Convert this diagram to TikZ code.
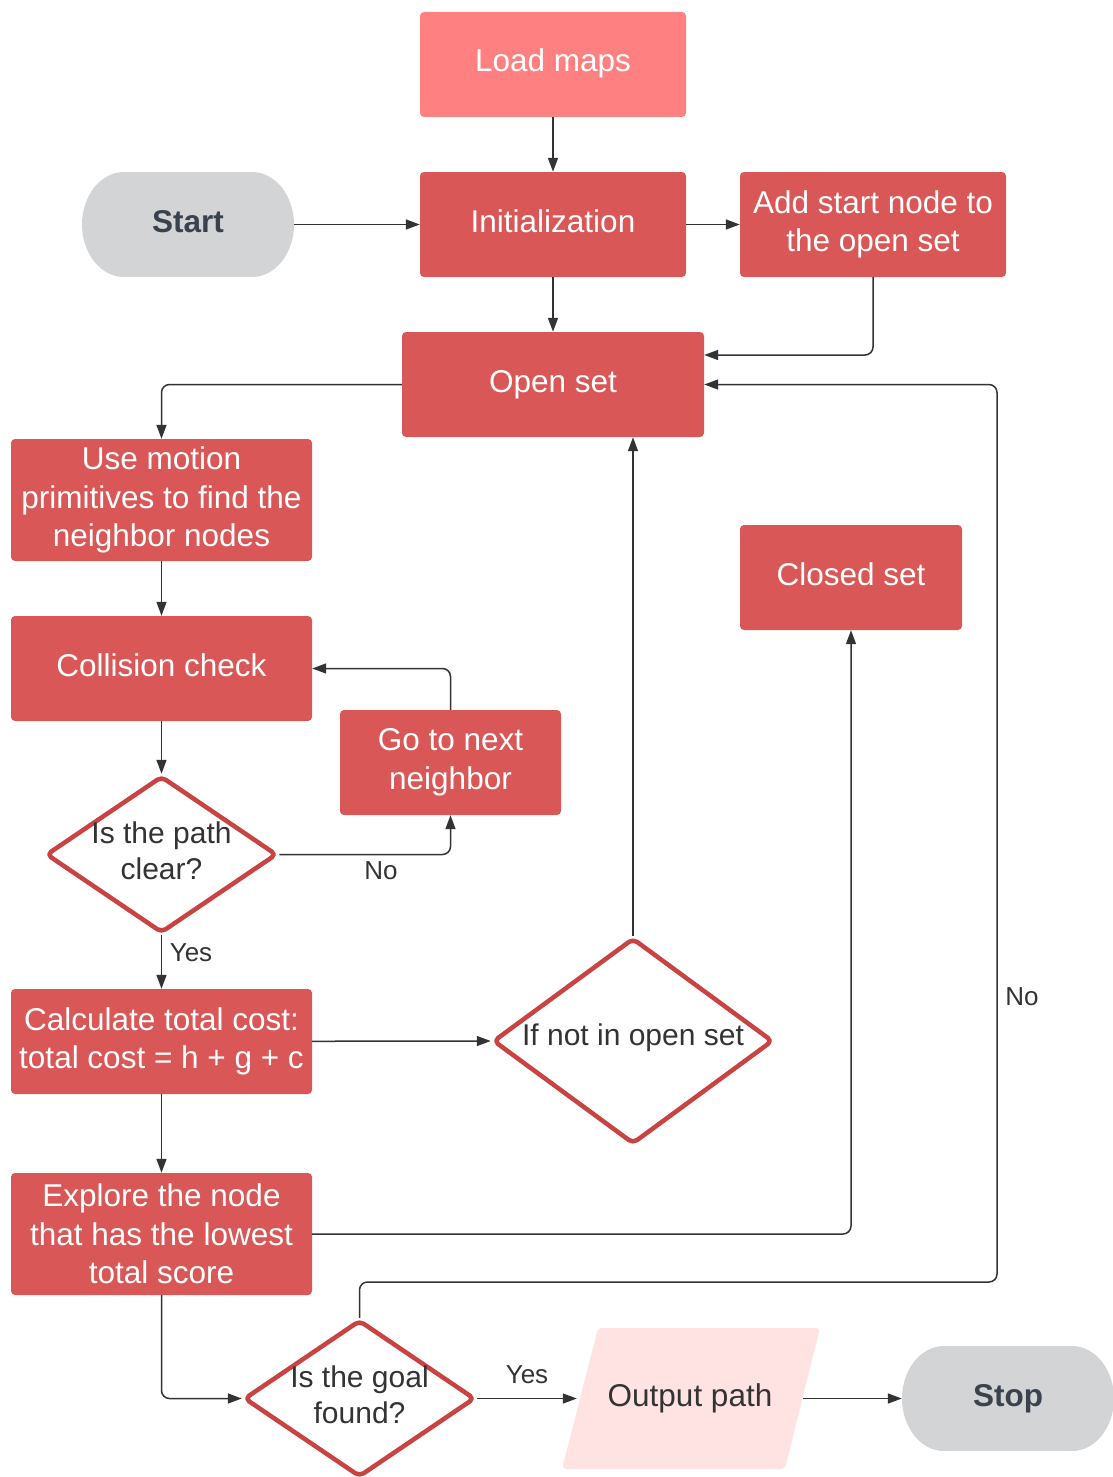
\documentclass[tikz,border=0pt]{standalone}
\usepackage{fontspec}
\setmainfont{Liberation Sans}
\usetikzlibrary{shapes.geometric,arrows.meta}
\definecolor{boxred}{HTML}{D95757}
\definecolor{lightred}{HTML}{FF8080}
\definecolor{diaedge}{HTML}{C94343}
\definecolor{termgrey}{HTML}{D3D4D6}
\definecolor{termtext}{HTML}{3A434D}
\definecolor{linegrey}{HTML}{333333}
\definecolor{outfill}{HTML}{FFE3E3}

\begin{document}
\begin{tikzpicture}[x=1pt,y=-1pt,
  proc/.style={rectangle, rounded corners=4pt, fill=boxred, text=white,
    font=\fontsize{31.5}{38.5}\selectfont, align=center, inner sep=0pt,
    minimum height=105},
  oneline/.style={text height=22.5pt, text depth=7.5pt},
  decision/.style={diamond, draw=diaedge, line width=4.5pt, fill=white,
    rounded corners=5pt, line join=round, inner sep=0pt},
  dtext/.style={text=linegrey, font=\fontsize{30}{36}\selectfont,
    align=center, inner sep=0pt},
  term/.style={text=termtext, font=\fontsize{31.5}{37}\bfseries\selectfont,
    inner sep=0pt, minimum height=105, oneline},
  lbl/.style={text=linegrey, font=\fontsize{26}{30}\selectfont, inner sep=0pt},
  conn/.style={draw=linegrey, line width=1.5pt, rounded corners=8pt,
    -{Triangle[length=14pt,width=10pt]}}
]
\useasboundingbox (0,0) rectangle (1113,1477);

% terminals
\fill[termgrey] (124,172) rectangle (252,277);
\fill[termgrey] (124,224.5) ellipse [x radius=42, y radius=52.5];
\fill[termgrey] (252,224.5) ellipse [x radius=42, y radius=52.5];
\node[term, minimum width=212] (start) at (188,224.5) {Start};

\fill[termgrey] (944,1346) rectangle (1072,1451);
\fill[termgrey] (944,1398.5) ellipse [x radius=42, y radius=52.5];
\fill[termgrey] (1072,1398.5) ellipse [x radius=42, y radius=52.5];
\node[term, minimum width=212] (stop) at (1008,1398.5) {Stop};

% process boxes
\node[proc, oneline, fill=lightred, minimum width=266] (load) at (553,64.5) {Load maps};
\node[proc, oneline, minimum width=266] (init) at (553,224.5) {Initialization};
\node[proc, minimum width=266] (addstart) at (873,224.5) {Add start node to\\the open set};
\node[proc, oneline, minimum width=302] (open) at (553,384.5) {Open set};
\node[proc, minimum width=301, minimum height=122] (motion) at (161.5,500) {Use motion\\primitives to find the\\neighbor nodes};
\node[proc, oneline, minimum width=301] (collide) at (161.5,668.5) {Collision check};
\node[proc, minimum width=221] (next) at (450.5,762.5) {Go to next\\neighbor};
\node[proc, oneline, minimum width=222] (closed) at (851,577.5) {Closed set};
\node[proc, minimum width=301] (cost) at (161.5,1041.5) {Calculate total cost:\\total cost = h + g + c};
\node[proc, minimum width=301, minimum height=122] (explore) at (161.5,1234) {Explore the node\\that has the lowest\\total score};

% decisions
\node[decision, minimum width=231, minimum height=157] (clear) at (161.5,854.5) {};
\node[dtext] (cleartext) at (161.5,851) {Is the path\\clear?};
\node[decision, minimum width=280, minimum height=206] (ifnot) at (633,1041) {};
\node[dtext] (ifnottext) at (633,1038) {If not in open set};
\node[decision, minimum width=231, minimum height=157] (goal) at (359.5,1398.5) {};
\node[dtext] (goaltext) at (359.5,1395) {Is the goal\\found?};

% output
\fill[outfill, rounded corners=4pt] (598,1328) -- (820,1328) -- (785,1469) -- (562,1469) -- cycle;
\node[dtext, font=\fontsize{31.5}{37}\selectfont, minimum width=226, minimum height=141] (output) at (690,1398.5) {Output path};

% connectors
\draw[conn] (load) -- (init);
\draw[conn] (start) -- (init);
\draw[conn] (init) -- (addstart);
\draw[conn] (init) -- (open);
\draw[conn] (addstart.south) |- ([yshift=29.5pt]open.east);
\draw[conn] (open.west) -| (motion.north);
\draw[conn] (motion) -- (collide);
\draw[conn] (collide) -- (clear.north);
\draw[conn] (clear.east) -| (next.south);
\draw[conn] (next.north) |- (collide.east);
\draw[conn] (clear.south) -- (cost);
\draw[conn] (cost) -- (ifnot.west);
\draw[conn] (ifnot.north) -- (ifnot.north |- open.south);
\draw[conn] (cost) -- (explore);
\draw[conn] (explore.east) -| (closed.south);
\draw[conn] (explore.south) |- (goal.west);
\coordinate (loopturn) at (997,1282);
\draw[conn] (goal.north) |- (loopturn) |- (open.east);
\draw[conn] (goal.east) -- (output.west);
\draw[conn] (output.east) -- (stop.west);

% branch labels
\node[lbl] (noclear) at (381,871) {No};
\node[lbl] (yesclear) at (191,953) {Yes};
\node[lbl] (nogoal) at (1022,997) {No};
\node[lbl] (yesgoal) at (527,1375) {Yes};
\end{tikzpicture}
\end{document}
